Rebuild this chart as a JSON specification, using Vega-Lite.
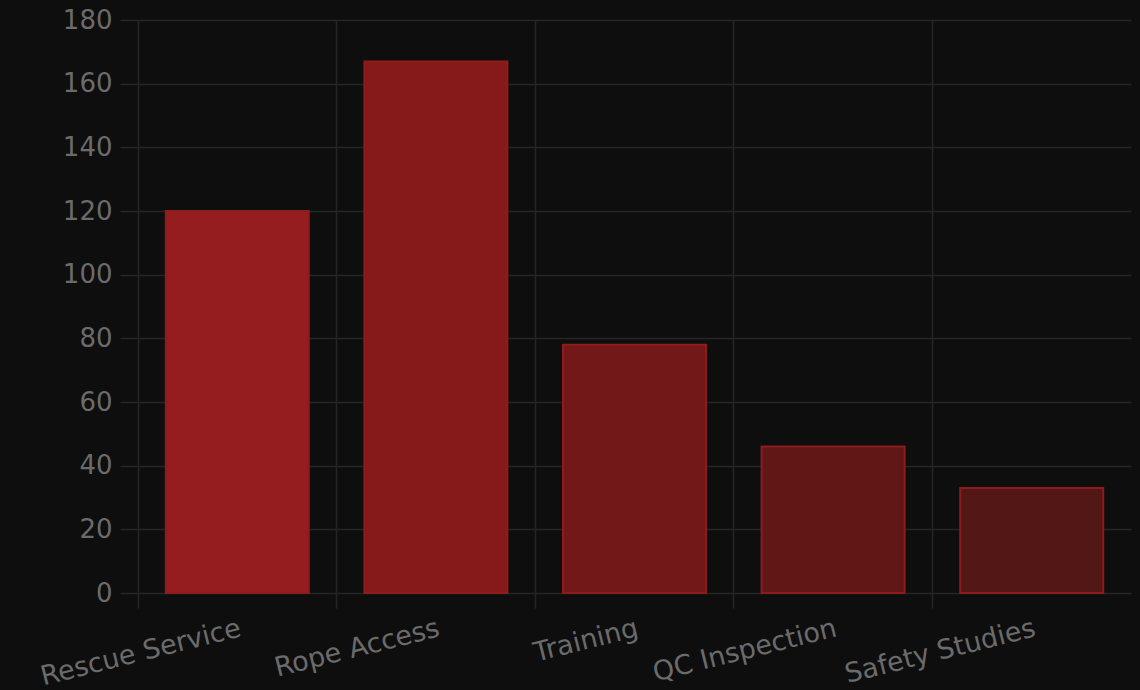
{
  "$schema": "https://vega.github.io/schema/vega-lite/v6.json",
  "width": 993,
  "height": 573,
  "autosize": {"type": "none"},
  "padding": {"left": 138, "top": 20, "right": 9, "bottom": 97},
  "background": "#0e0e0e",
  "config": {"view": {"stroke": null}},
  "data": {
    "values": [
      {"service": "Rescue Service", "jobs": 120},
      {"service": "Rope Access", "jobs": 167},
      {"service": "Training", "jobs": 78},
      {"service": "QC Inspection", "jobs": 46},
      {"service": "Safety Studies", "jobs": 33}
    ]
  },
  "mark": {"type": "bar", "stroke": "#8e1c1c", "strokeWidth": 2, "width": {"band": 0.72}},
  "encoding": {
    "x": {
      "field": "service",
      "type": "nominal",
      "sort": null,
      "scale": {"paddingInner": 0, "paddingOuter": 0},
      "axis": {
        "title": null,
        "bandPosition": 0,
        "grid": true,
        "gridColor": "#262626",
        "gridWidth": 1.5,
        "tickColor": "#262626",
        "tickWidth": 1.5,
        "tickSize": 15,
        "domain": false,
        "labelAngle": -14,
        "labelAlign": "right",
        "labelBaseline": "top",
        "labelPadding": 7,
        "labelLimit": 500,
        "labelFont": "DejaVu Sans",
        "labelFontSize": 27,
        "labelColor": "#6b6b6b",
        "labelOverlap": false
      }
    },
    "y": {
      "field": "jobs",
      "type": "quantitative",
      "scale": {"domain": [0, 180]},
      "axis": {
        "title": null,
        "values": [0, 20, 40, 60, 80, 100, 120, 140, 160, 180],
        "grid": true,
        "gridColor": "#262626",
        "gridWidth": 1.5,
        "tickColor": "#262626",
        "tickWidth": 1.5,
        "tickSize": 18,
        "domain": false,
        "labelPadding": 8,
        "labelFlush": false,
        "labelOverlap": false,
        "labelFont": "DejaVu Sans",
        "labelFontSize": 26,
        "labelColor": "#6b6b6b"
      }
    },
    "color": {
      "field": "service",
      "type": "nominal",
      "sort": null,
      "scale": {
        "domain": ["Rescue Service", "Rope Access", "Training", "QC Inspection", "Safety Studies"],
        "range": ["#951d1f", "#861a1a", "#731818", "#611716", "#531715"]
      },
      "legend": null
    }
  }
}
